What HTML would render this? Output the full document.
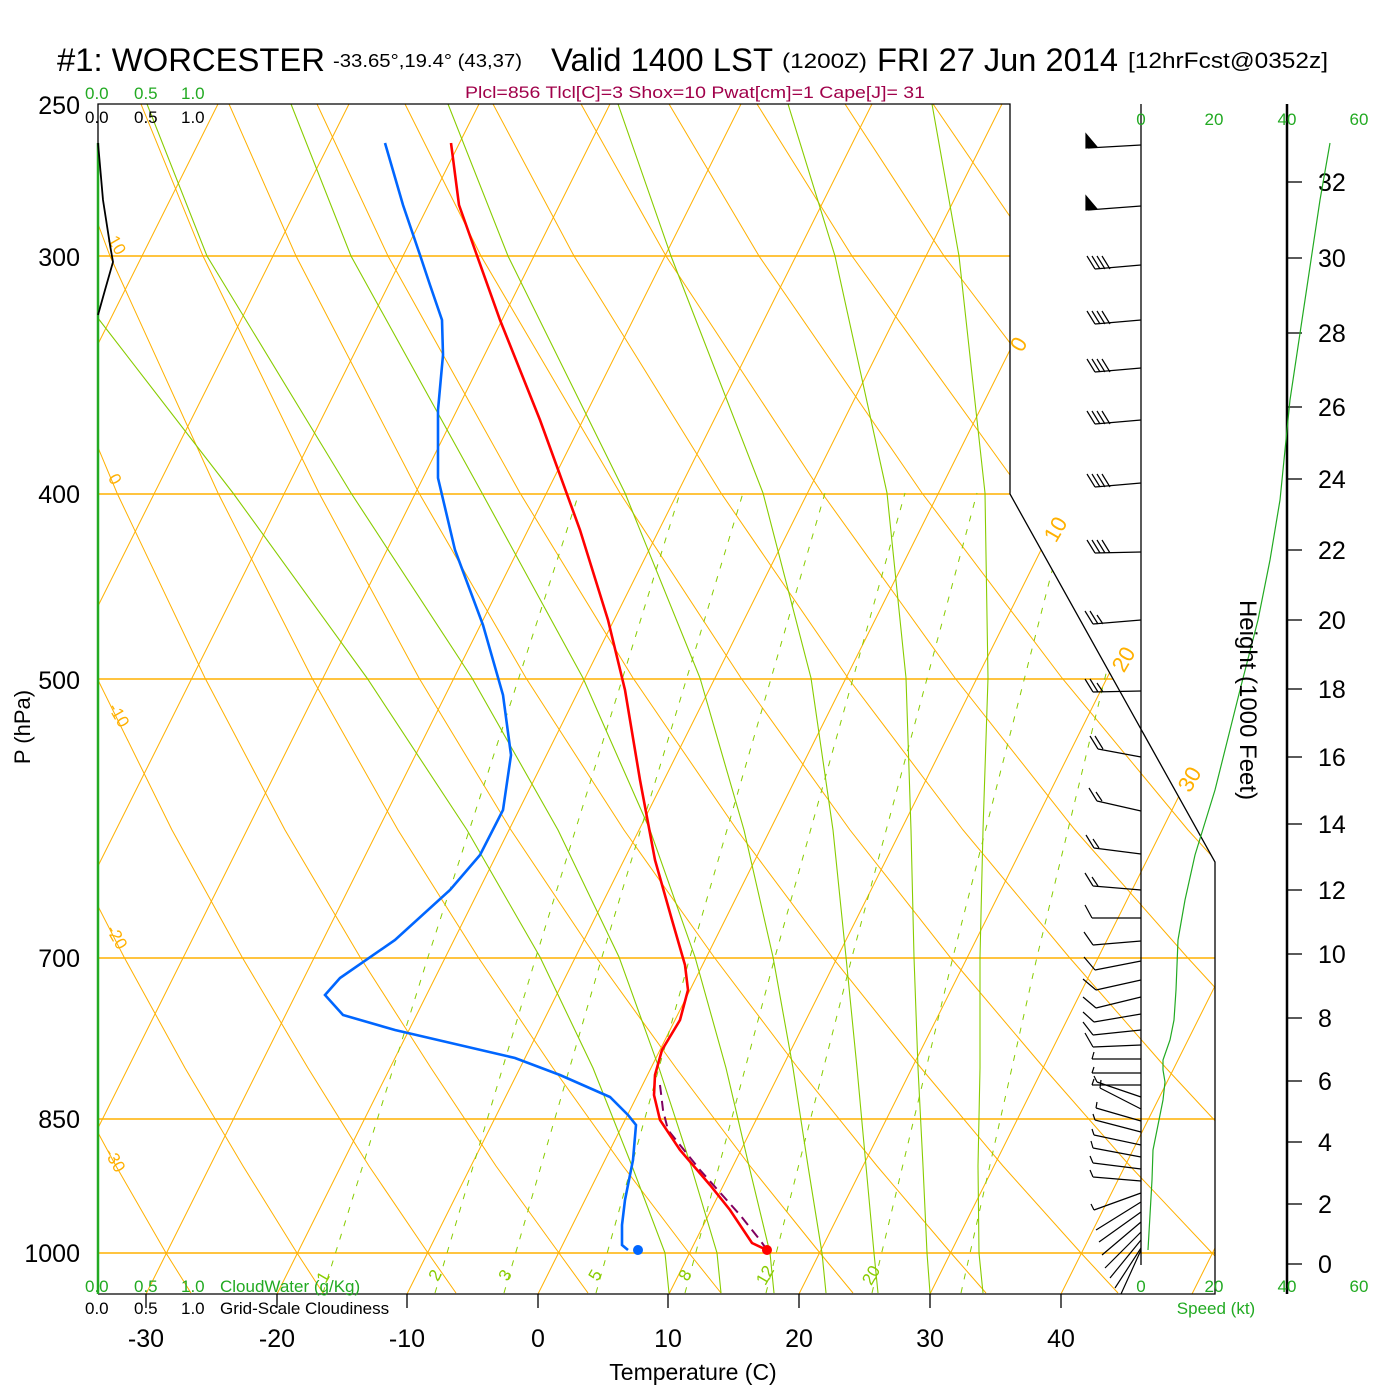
<!DOCTYPE html>
<html><head><meta charset="utf-8"><style>
html,body{margin:0;padding:0;background:#fff;}
svg{display:block;}
text{font-family:"Liberation Sans",Arial,sans-serif;}
</style></head><body>
<svg width="1400" height="1400" viewBox="0 0 1400 1400" xmlns="http://www.w3.org/2000/svg">
<defs><clipPath id="cp"><polygon points="98,104 1010,104 1010,494 1215,862 1215,1294 98,1294"/></clipPath></defs>
<rect width="1400" height="1400" fill="#fff"/>
<g clip-path="url(#cp)" fill="none">
<!-- isobars -->
<g stroke="#ffb000" stroke-width="1.4">
<line x1="98" x2="1215" y1="256" y2="256"/><line x1="98" x2="1215" y1="494" y2="494"/><line x1="98" x2="1215" y1="679" y2="679"/><line x1="98" x2="1215" y1="958" y2="958"/><line x1="98" x2="1215" y1="1119" y2="1119"/><line x1="98" x2="1215" y1="1253" y2="1253"/>
</g>
<!-- isotherms -->
<g stroke="#ffb000" stroke-width="1">
<line x1="-377" y1="1294" x2="218" y2="104"/><line x1="-246" y1="1294" x2="349" y2="104"/><line x1="-116" y1="1294" x2="479" y2="104"/><line x1="15" y1="1294" x2="610" y2="104"/><line x1="146" y1="1294" x2="741" y2="104"/><line x1="277" y1="1294" x2="872" y2="104"/><line x1="407" y1="1294" x2="1002" y2="104"/><line x1="538" y1="1294" x2="1133" y2="104"/><line x1="669" y1="1294" x2="1264" y2="104"/><line x1="799" y1="1294" x2="1394" y2="104"/><line x1="930" y1="1294" x2="1525" y2="104"/><line x1="1061" y1="1294" x2="1656" y2="104"/><line x1="1192" y1="1294" x2="1787" y2="104"/>
</g>
<!-- dry adiabats -->
<g stroke="#ffb000" stroke-width="1">
<polyline points="191,1293 166,1253 116,1166 63,1068 6,957 -54,830 -117,678 -185,493"/>
<polyline points="323,1293 297,1253 243,1166 185,1068 124,957 59,830 -10,678 -84,493"/>
<polyline points="456,1293 428,1253 369,1166 308,1068 242,957 172,830 97,678 17,493 -75,256 -123,104"/>
<polyline points="588,1293 559,1253 496,1166 431,1068 360,957 285,830 205,678 117,493 18,256 -35,104"/>
<polyline points="721,1293 689,1253 623,1166 553,1068 478,957 398,830 312,678 218,493 110,256 53,104"/>
<polyline points="853,1293 820,1253 750,1166 676,1068 596,957 511,830 419,678 319,493 203,256 141,104"/>
<polyline points="986,1293 951,1253 877,1166 798,1068 714,957 624,830 526,678 419,493 296,256 229,104"/>
<polyline points="1118,1293 1081,1253 1003,1166 921,1068 832,957 737,830 633,678 520,493 388,256 317,104"/>
<polyline points="1251,1293 1212,1253 1130,1166 1044,1068 950,957 850,830 741,678 620,493 481,256 405,104"/>
<polyline points="1383,1293 1343,1253 1257,1166 1166,1068 1069,957 963,830 848,678 721,493 574,256 493,104"/>
<polyline points="1473,1253 1384,1166 1289,1068 1187,957 1075,830 955,678 822,493 666,256 581,104"/>
<polyline points="1304,957 1188,830 1062,678 922,493 759,256 669,104"/>
<polyline points="1301,830 1169,678 1023,493 852,256 757,104"/>
<polyline points="1277,678 1124,493 944,256 845,104"/>
<polyline points="1224,493 1037,256 933,104"/>
</g>
<!-- moist adiabats -->
<g stroke="#88cc00" stroke-width="1.1">
<polyline points="983,1293 979,1253 978,1166 980,1068 980,957 983,830 988,678 985,493 959,256 932,104"/>
<polyline points="930,1293 927,1253 923,1166 918,1068 914,957 911,830 906,678 887,493 835,256 788,104"/>
<polyline points="878,1293 874,1253 866,1166 857,1068 846,957 833,830 811,678 763,493 671,256 618,104"/>
<polyline points="826,1293 822,1253 808,1166 793,1068 773,957 744,830 700,678 625,493 508,256 448,104"/>
<polyline points="774,1293 770,1253 749,1166 726,1068 695,957 650,830 583,678 482,493 351,256 291,104"/>
<polyline points="721,1293 717,1253 691,1166 659,1068 619,957 558,830 472,678 351,493 207,256 147,104"/>
<polyline points="669,1293 665,1253 632,1166 593,1068 540,957 467,830 367,678 233,493 50,256"/>
</g>
<!-- mixing ratio -->
<g stroke="#88cc00" stroke-width="1" stroke-dasharray="6,8">
<polyline points="323,1293 428,957 579,493"/>
<polyline points="435,1293 536,957 680,493"/>
<polyline points="504,1293 602,957 743,493"/>
<polyline points="596,1293 690,957 825,493"/>
<polyline points="685,1293 775,957 905,493"/>
<polyline points="766,1293 852,957 977,493"/>
<polyline points="872,1293 953,957 1072,493"/>
<polyline points="961,1293 1037,957 1150,493"/>
</g>
</g>
<!-- frame -->
<polyline points="98,143 98,104 1010,104 1010,494 1215,862 1215,1294 98,1294" fill="none" stroke="#000" stroke-width="1.3"/>
<line x1="98" y1="143" x2="98" y2="1294" stroke="#22aa22" stroke-width="2.5"/>
<g stroke="#000" stroke-width="1.3">
<line x1="146" y1="1294" x2="146" y2="1308"/><line x1="277" y1="1294" x2="277" y2="1308"/><line x1="407" y1="1294" x2="407" y2="1308"/><line x1="538" y1="1294" x2="538" y2="1308"/><line x1="668" y1="1294" x2="668" y2="1308"/><line x1="799" y1="1294" x2="799" y2="1308"/><line x1="930" y1="1294" x2="930" y2="1308"/><line x1="1061" y1="1294" x2="1061" y2="1308"/>
</g>
<!-- grid labels -->
<g font-size="17" fill="#ffb000" text-anchor="middle">
<text x="112" y="248" transform="rotate(60 112 248)">10</text>
<text x="110" y="482" transform="rotate(60 110 482)">0</text>
<text x="114" y="718" transform="rotate(60 114 718)">-10</text>
<text x="112" y="940" transform="rotate(60 112 940)">-20</text>
<text x="110" y="1163" transform="rotate(60 110 1163)">-30</text>
</g>
<g font-size="22" fill="#ffb000" text-anchor="middle">
<text x="1025" y="348" transform="rotate(-60 1025 348)">0</text>
<text x="1062" y="533" transform="rotate(-60 1062 533)">10</text>
<text x="1130" y="663" transform="rotate(-60 1130 663)">20</text>
<text x="1196" y="783" transform="rotate(-60 1196 783)">30</text>
</g>
<g font-size="17" fill="#88cc00" text-anchor="middle">
<text x="328" y="1280" transform="rotate(-60 328 1280)">1</text>
<text x="440" y="1278" transform="rotate(-60 440 1278)">2</text>
<text x="510" y="1278" transform="rotate(-60 510 1278)">3</text>
<text x="600" y="1278" transform="rotate(-60 600 1278)">5</text>
<text x="690" y="1278" transform="rotate(-60 690 1278)">8</text>
<text x="770" y="1278" transform="rotate(-60 770 1278)">12</text>
<text x="876" y="1278" transform="rotate(-60 876 1278)">20</text>
</g>
<!-- cloud curve -->
<polyline points="98,143 103,200 110,245 113,262 105,290 98,315" fill="none" stroke="#000" stroke-width="1.8"/>
<!-- data -->
<polyline points="660,1085 663,1110 668,1130 700,1170 740,1215 760,1240 767,1250" fill="none" stroke="#800060" stroke-width="2" stroke-dasharray="10,6"/>
<polyline points="451,143 459,205 475,250 500,320 540,420 580,530 608,620 625,690 640,780 655,860 672,920 685,965 688,990 680,1020 662,1050 655,1075 654,1095 660,1120 680,1150 710,1185 730,1210 752,1243 767,1250" fill="none" stroke="#ff0000" stroke-width="2.6"/>
<polyline points="385,143 403,205 420,255 430,285 442,320 443,355 438,410 438,478 455,550 483,625 503,695 511,755 503,810 480,855 450,890 395,940 340,978 325,995 343,1015 395,1030 515,1058 560,1075 610,1097 628,1115 636,1125 633,1160 625,1200 622,1225 622,1245 628,1250" fill="none" stroke="#0066ff" stroke-width="2.6"/>
<circle cx="767" cy="1250" r="5" fill="#ff0000"/>
<circle cx="638" cy="1250" r="5" fill="#0066ff"/>
<!-- right panel -->
<line x1="1141" y1="104" x2="1141" y2="1265" stroke="#000" stroke-width="1.3"/>
<line x1="1287" y1="104" x2="1287" y2="1294" stroke="#000" stroke-width="2.5"/>
<g stroke="#000" stroke-width="1.2" fill="none">
<line x1="1141" y1="145" x2="1088" y2="148"/><polygon points="1086,148 1086,134 1097,147" fill="#000"/>
<line x1="1141" y1="206" x2="1088" y2="210"/><polygon points="1086,210 1086,196 1097,209" fill="#000"/>
<path d="M1141 265L1095 269M1095 269l-8 -13M1100 269l-8 -13M1105 269l-8 -13M1110 269l-8 -13"/>
<path d="M1141 320L1095 324M1095 324l-8 -13M1100 324l-8 -13M1105 324l-8 -13M1110 324l-8 -13"/>
<path d="M1141 368L1095 372M1095 372l-8 -13M1100 372l-8 -13M1105 372l-8 -13M1110 372l-8 -13"/>
<path d="M1141 420L1095 424M1095 424l-8 -13M1100 424l-8 -13M1105 424l-8 -13M1110 424l-8 -13"/>
<path d="M1141 483L1095 487M1095 487l-8 -13M1100 487l-8 -13M1105 487l-8 -13M1110 487l-8 -13"/>
<path d="M1141 552L1095 553M1095 553l-8 -13M1100 553l-8 -13M1105 553l-8 -13M1110 553l-8 -13"/>
<path d="M1141 620L1093 624M1093 624l-8 -13M1098 624l-8 -13M1103 624l-6 -9"/>
<path d="M1141 691L1093 692M1093 692l-8 -13M1098 692l-8 -13M1103 692l-6 -9"/>
<path d="M1141 757L1098 749M1098 749l-8 -13M1103 749l-8 -13"/>
<path d="M1141 811L1097 801M1097 801l-8 -13M1102 801l-6 -9"/>
<path d="M1141 854L1094 848M1094 848l-8 -13M1099 848l-6 -9"/>
<path d="M1141 890L1093 886M1093 886l-8 -13M1098 886l-6 -9"/>
<path d="M1141 918L1092 918M1092 918l-7 -13"/>
<path d="M1141 941L1093 945M1093 945l-9 -13"/>
<path d="M1141 961L1095 970M1095 970l-11 -13"/>
<path d="M1141 980L1096 990M1096 990l-13 -11"/>
<path d="M1141 997L1096 1008M1096 1008l-13 -11"/>
<path d="M1141 1014L1094 1022M1094 1022l-11 -10"/>
<path d="M1141 1030L1093 1035M1093 1035l-10 -13"/>
<path d="M1141 1045L1093 1047M1093 1047l-8 -14"/>
<path d="M1141 1059L1092 1059M1092 1059l2 -7"/>
<path d="M1141 1073L1092 1073M1092 1073l2 -6"/>
<path d="M1141 1085L1092 1085M1092 1085l2 -6"/>
<path d="M1141 1097L1097 1082M1097 1082l-3 -6"/>
<path d="M1141 1109L1100 1088M1100 1088l1 -8"/>
<path d="M1141 1121L1096 1108M1096 1108l1 -6"/>
<path d="M1141 1132L1095 1120M1095 1120l-2 -6"/>
<path d="M1141 1145L1094 1135M1094 1135l-2 -6"/>
<path d="M1141 1157L1093 1148M1093 1148l-2 -7"/>
<path d="M1141 1169L1093 1163M1093 1163l-3 -7"/>
<path d="M1141 1181L1093 1177M1093 1177l-3 -7"/>
<path d="M1141 1193L1094 1210M1094 1210l-3 -6"/>
<path d="M1141 1202L1096 1230M1141 1212L1099 1242M1141 1222L1102 1255M1141 1232L1105 1268M1141 1240L1110 1278M1141 1248L1115 1288M1141 1250L1121 1294"/>
</g>
<g stroke="#000" stroke-width="1.3">
<line x1="1287" x2="1302" y1="182" y2="182"/><line x1="1287" x2="1302" y1="258" y2="258"/><line x1="1287" x2="1302" y1="333" y2="333"/><line x1="1287" x2="1302" y1="407" y2="407"/><line x1="1287" x2="1302" y1="479" y2="479"/><line x1="1287" x2="1302" y1="550" y2="550"/><line x1="1287" x2="1302" y1="620" y2="620"/><line x1="1287" x2="1302" y1="689" y2="689"/><line x1="1287" x2="1302" y1="757" y2="757"/><line x1="1287" x2="1302" y1="824" y2="824"/><line x1="1287" x2="1302" y1="890" y2="890"/><line x1="1287" x2="1302" y1="954" y2="954"/><line x1="1287" x2="1302" y1="1018" y2="1018"/><line x1="1287" x2="1302" y1="1081" y2="1081"/><line x1="1287" x2="1302" y1="1142" y2="1142"/><line x1="1287" x2="1302" y1="1204" y2="1204"/><line x1="1287" x2="1302" y1="1264" y2="1264"/>
</g>
<g font-size="25" fill="#000">
<text x="1318" y="191">32</text><text x="1318" y="267">30</text><text x="1318" y="342">28</text><text x="1318" y="416">26</text><text x="1318" y="488">24</text><text x="1318" y="559">22</text><text x="1318" y="629">20</text><text x="1318" y="698">18</text><text x="1318" y="766">16</text><text x="1318" y="833">14</text><text x="1318" y="899">12</text><text x="1318" y="963">10</text><text x="1318" y="1027">8</text><text x="1318" y="1090">6</text><text x="1318" y="1151">4</text><text x="1318" y="1213">2</text><text x="1318" y="1273">0</text>
</g>
<polyline points="1330,143 1320,200 1305,300 1290,400 1287,430 1280,500 1270,560 1258,620 1240,690 1215,790 1195,855 1185,900 1178,940 1176,990 1174,1020 1170,1040 1163,1060 1163,1070 1165,1082 1163,1100 1157,1130 1153,1150 1152,1180 1150,1215 1148,1250" fill="none" stroke="#22aa22" stroke-width="1.2"/>
<!-- text -->
<g fill="#000">
<text x="57" y="71" font-size="32" textLength="268" lengthAdjust="spacingAndGlyphs">#1: WORCESTER</text>
<text x="333" y="67" font-size="18" textLength="189" lengthAdjust="spacingAndGlyphs">-33.65°,19.4° (43,37)</text>
<text x="551" y="71" font-size="32" textLength="222" lengthAdjust="spacingAndGlyphs">Valid 1400 LST</text>
<text x="782" y="68" font-size="21" textLength="85" lengthAdjust="spacingAndGlyphs">(1200Z)</text>
<text x="877" y="71" font-size="32" textLength="241" lengthAdjust="spacingAndGlyphs">FRI 27 Jun 2014</text>
<text x="1128" y="68" font-size="22" textLength="200" lengthAdjust="spacingAndGlyphs">[12hrFcst@0352z]</text>
</g>
<text x="465" y="98" font-size="17" fill="#a0004a" textLength="460" lengthAdjust="spacingAndGlyphs">Plcl=856 Tlcl[C]=3 Shox=10 Pwat[cm]=1 Cape[J]= 31</text>
<g font-size="17" fill="#22aa22"><text x="85" y="99">0.0</text><text x="134" y="99">0.5</text><text x="181" y="99">1.0</text></g>
<g font-size="17" fill="#000"><text x="85" y="123">0.0</text><text x="134" y="123">0.5</text><text x="181" y="123">1.0</text></g>
<g font-size="25" fill="#000" text-anchor="end">
<text x="80" y="114">250</text><text x="80" y="266">300</text><text x="80" y="503">400</text><text x="80" y="689">500</text><text x="80" y="967">700</text><text x="80" y="1128">850</text><text x="80" y="1262">1000</text>
</g>
<text transform="translate(30,727) rotate(-90)" font-size="22" text-anchor="middle">P (hPa)</text>
<g font-size="17" fill="#22aa22"><text x="85" y="1292">0.0</text><text x="134" y="1292">0.5</text><text x="181" y="1292">1.0</text><text x="220" y="1292">CloudWater (g/Kg)</text></g>
<g font-size="17" fill="#000"><text x="85" y="1314">0.0</text><text x="134" y="1314">0.5</text><text x="181" y="1314">1.0</text><text x="220" y="1314">Grid-Scale Cloudiness</text></g>
<g font-size="25" fill="#000" text-anchor="middle">
<text x="146" y="1347">-30</text><text x="277" y="1347">-20</text><text x="407" y="1347">-10</text><text x="538" y="1347">0</text><text x="668" y="1347">10</text><text x="799" y="1347">20</text><text x="930" y="1347">30</text><text x="1061" y="1347">40</text>
</g>
<text x="693" y="1380" font-size="23" text-anchor="middle">Temperature (C)</text>
<g font-size="17" fill="#22aa22" text-anchor="middle">
<text x="1141" y="125">0</text><text x="1214" y="125">20</text><text x="1287" y="125">40</text><text x="1359" y="125">60</text>
<text x="1141" y="1292">0</text><text x="1214" y="1292">20</text><text x="1287" y="1292">40</text><text x="1359" y="1292">60</text>
<text x="1216" y="1314">Speed (kt)</text>
</g>
<text transform="translate(1240,700) rotate(90)" font-size="24" text-anchor="middle">Height (1000 Feet)</text>
</svg>
</body></html>
